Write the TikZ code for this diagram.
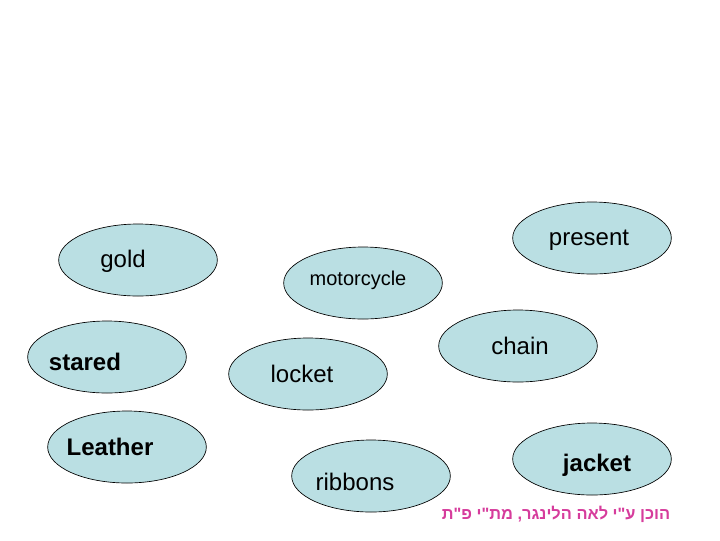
\documentclass[tikz,border=0pt]{standalone}
\usepackage{fontspec}
\setmainfont{Liberation Sans}
\newfontfamily\hebrewfont[Script=Hebrew]{Liberation Sans}
\TeXXeTstate=1
\usepackage{tikz}
\usetikzlibrary{shapes.geometric}
\definecolor{bubblefill}{HTML}{BADFE3}
\definecolor{creditpink}{HTML}{D63C9C}

\begin{document}
\begin{tikzpicture}[
    x=0.75pt, y=-0.75pt,
    bubble/.style={
        ellipse,
        draw=black,
        line width=0.5pt,
        fill=bubblefill,
        minimum width=119pt,
        minimum height=54pt,
        inner sep=0pt
    },
    word/.style={font=\fontsize{18pt}{20pt}\selectfont, inner sep=0pt},
    boldword/.style={font=\fontsize{18pt}{20pt}\selectfont\bfseries, inner sep=0pt}
]
    \useasboundingbox (0,0) rectangle (720,540);

    \node[bubble, label={[word, shift={(-15,1)}]center:gold}] (gold) at (138,260) {};
    \node[bubble, label={[word, font=\fontsize{15pt}{17pt}\selectfont, shift={(-5,-3)}]center:motorcycle}] (motorcycle) at (363,283) {};
    \node[bubble, label={[word, shift={(-3,2)}]center:present}] (present) at (592,238) {};
    \node[bubble, label={[word, shift={(2,0)}]center:chain}] (chain) at (518,346) {};
    \node[bubble, label={[boldword, shift={(-22,5)}]center:stared}] (stared) at (107,357) {};
    \node[bubble, label={[word, shift={(-6,0)}]center:locket}] (locket) at (308,374) {};
    \node[bubble, label={[boldword, shift={(-17,0)}]center:Leather}] (leather) at (127,447) {};
    \node[bubble, label={[word, shift={(-16,6)}]center:ribbons}] (ribbons) at (371,476) {};
    \node[bubble, label={[boldword, shift={(5,6)}]center:jacket}] (jacket) at (592,459) {};

    % credit line
    \node[text=creditpink, font=\hebrewfont\fontsize{12.3pt}{14pt}\selectfont\bfseries, inner sep=0pt]
        (credit) at (556,514) {\beginR הוכן ע"י לאה הלינגר, מת"י פ"ת\endR};
\end{tikzpicture}
\end{document}
